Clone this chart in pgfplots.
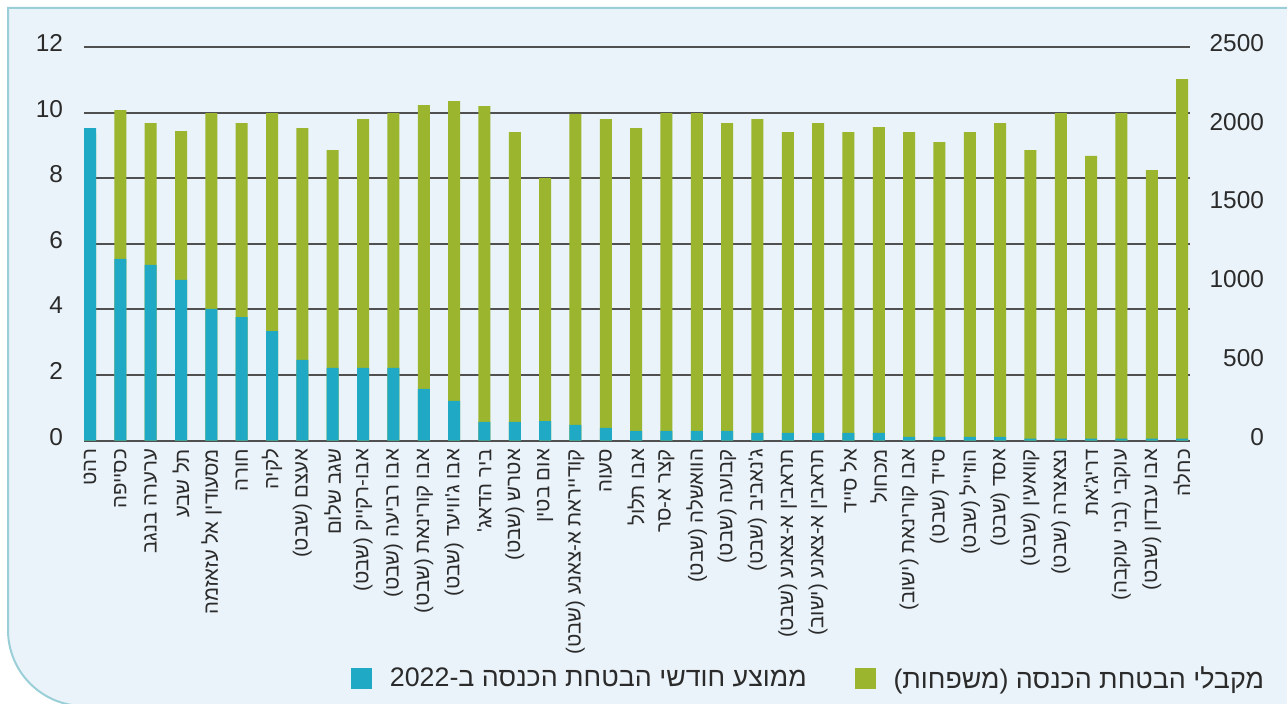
\documentclass[border=0pt]{standalone}
\usepackage{fontspec}
\setmainfont{Liberation Sans}
\newfontfamily\hebfont[Script=Hebrew]{Liberation Sans}
\usepackage{pgfplots}
\usepackage{pgfplotstable}
\pgfplotsset{compat=1.18}
\TeXXeTstate=1
\definecolor{barG}{HTML}{9BB52E}
\definecolor{barB}{HTML}{20A9C5}
\definecolor{panel}{HTML}{EAF3F9}
\definecolor{edge}{HTML}{9ACFD8}
\definecolor{gridc}{HTML}{505050}
\definecolor{txt}{HTML}{2B2B2B}

\pgfplotstableread{
x g b
0 1950 9.53
1 2099 5.54
2 2017 5.36
3 1966 4.90
4 2080 4.02
5 2017 3.77
6 2080 3.34
7 1985 2.46
8 1845 2.22
9 2042 2.22
10 2080 2.22
11 2131 1.58
12 2157 1.21
13 2125 0.57
14 1960 0.57
15 1668 0.60
16 2076 0.48
17 2042 0.39
18 1985 0.30
19 2080 0.30
20 2080 0.30
21 2017 0.30
22 2042 0.24
23 1960 0.24
24 2017 0.24
25 1960 0.24
26 1991 0.24
27 1960 0.12
28 1896 0.12
29 1960 0.12
30 2017 0.12
31 1845 0.06
32 2080 0.06
33 1808 0.06
34 2080 0.06
35 1718 0.06
36 2296 0.06
}\data

\pgfplotsset{
  base/.style={
    at={(42pt,-220.35pt)}, anchor=south west,
    width=553pt, height=196.85pt, scale only axis,
    xmin=-0.2, xmax=36.26, ymin=0,
    axis line style={draw=none}, major tick length=0pt,
    scaled y ticks=false,
    /pgf/number format/assume math mode=true,
    /pgf/number format/1000 sep={},
    tick label style={text=txt},
  }
}

\begin{document}
\begin{tikzpicture}
\useasboundingbox (0,0) rectangle (643.5pt,-352pt);
\clip (0,0) rectangle (643.5pt,-352pt);
\fill[white] (0,0) rectangle (643.5pt,-352pt);
\path[fill=panel, draw=edge, line width=1pt]
  (700pt,-4pt) -- (4pt,-4pt) -- (4pt,-315pt)
  arc[start angle=180, end angle=270, radius=38pt] -- (700pt,-353pt) -- cycle;

% green series, right axis, with the grid
\begin{axis}[base,
  ymax=2500, ytick={0,500,...,2500},
  yticklabel pos=right,
  yticklabel style={anchor=east, font=\fontsize{12.2pt}{14pt}\selectfont, yshift=2pt},
  yticklabel shift=40.5pt,
  xtick=\empty,
  extra y ticks={0,416.6667,833.3333,1250,1666.6667,2083.3333,2500},
  extra y tick labels={},
  extra y tick style={grid=major, major grid style={gridc, line width=1pt}},
]
\addplot[ybar, bar width=6pt, bar shift=0pt, fill=barG, draw=none] table[x=x, y=g] {\data};
\end{axis}

% blue series, left axis, labels and legend
\begin{axis}[base,
  ymax=12, ytick={0,2,...,12},
  yticklabel pos=left,
  yticklabel style={anchor=east, font=\fontsize{12.2pt}{14pt}\selectfont, yshift=2pt},
  yticklabel shift=7pt,
  xtick={0,...,36},
  xticklabels={
    {\beginR רהט\endR},{\beginR כסייפה\endR},{\beginR ערערה בנגב\endR},{\beginR תל שבע\endR},{\beginR מסעודין אל עזאזמה\endR},
    {\beginR חורה\endR},{\beginR לקיה\endR},{\beginR אעצם (שבט)\endR},{\beginR שגב שלום\endR},{\beginR אבו-רקייק (שבט)\endR},
    {\beginR אבו רביעה (שבט)\endR},{\beginR אבו קורינאת (שבט)\endR},{\beginR אבו ג'וויעד (שבט)\endR},{\beginR ביר הדאג'\endR},
    {\beginR אטרש (שבט)\endR},{\beginR אום בטין\endR},{\beginR קודייראת א-צאנע (שבט)\endR},{\beginR סעוה\endR},{\beginR אבו תלול\endR},
    {\beginR קצר א-סר\endR},{\beginR הוואשלה (שבט)\endR},{\beginR קבועה (שבט)\endR},{\beginR ג'נאביב (שבט)\endR},
    {\beginR תראבין א-צאנע (שבט)\endR},{\beginR תראבין א-צאנע (ישוב)\endR},{\beginR אל סייד\endR},{\beginR מכחול\endR},
    {\beginR אבו קורינאת (ישוב)\endR},{\beginR סייד (שבט)\endR},{\beginR הוזייל (שבט)\endR},{\beginR אסד (שבט)\endR},
    {\beginR קוואעין (שבט)\endR},{\beginR נצאצרה (שבט)\endR},{\beginR דריג'את\endR},{\beginR עוקבי (בני עוקבה)\endR},
    {\beginR אבו עבדון (שבט)\endR},{\beginR כחלה\endR}},
  xticklabel style={rotate=90, anchor=east, inner sep=0pt,
    font=\hebfont\fontsize{10.2pt}{12pt}\selectfont},
  xticklabel shift=4pt,
  legend style={at={(0.656,-0.605)}, anchor=center, draw=none, fill=none,
    legend columns=2, text=txt,
    font=\hebfont\fontsize{13.4pt}{15pt}\selectfont,
    /tikz/every odd column/.append style={column sep=7pt},
    /tikz/every even column/.append style={column sep=22pt}},
]
\addplot[ybar, bar width=6pt, bar shift=0pt, fill=barB, draw=none, forget plot] table[x=x, y=b] {\data};
\addlegendimage{legend image code/.code={\fill[barB] (0pt,-5pt) rectangle (10pt,5pt);}}
\addlegendentry{\beginR ממוצע חודשי הבטחת הכנסה ב-2022\endR}
\addlegendimage{legend image code/.code={\fill[barG] (0pt,-5pt) rectangle (10pt,5pt);}}
\addlegendentry{\beginR מקבלי הבטחת הכנסה (משפחות)\endR}
\end{axis}
\end{tikzpicture}
\end{document}
